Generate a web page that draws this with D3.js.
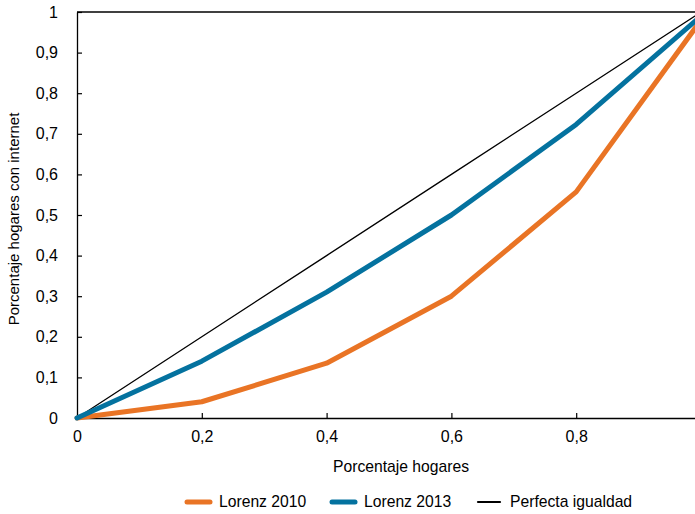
<!DOCTYPE html>
<html>
<head>
<meta charset="utf-8">
<script src="https://cdn.jsdelivr.net/npm/d3@7"></script>
<style>
  html, body { margin: 0; padding: 0; background: #fff; overflow: hidden; }
  svg { display: block; font-family: "Liberation Sans", Arial, sans-serif; }
</style>
</head>
<body>
<svg id="chart" width="695" height="514"></svg>
<script>
// Share of households (x) against cumulative share with internet (y)
const shares = [0, 0.2, 0.4, 0.6, 0.8, 1];
const lorenz2010 = [0, 0.04, 0.135, 0.30, 0.557, 0.98];
const lorenz2013 = [0, 0.14, 0.31, 0.50, 0.723, 0.99];
const equality = [0, 0.2, 0.4, 0.6, 0.8, 1];

const xTicks = [0, 0.2, 0.4, 0.6, 0.8, 1];
const yTicks = [0, 0.1, 0.2, 0.3, 0.4, 0.5, 0.6, 0.7, 0.8, 0.9, 1];

const seriesNames = ["Lorenz 2010", "Lorenz 2013", "Perfecta igualdad"];
const seriesColors = ["#E97425", "#04729F", "#000000"];
const seriesWidths = [5, 5, 1.3];

const svg = d3.select("#chart");
const margin = { left: 77, top: 12, right: 701, bottom: 418 };

const x = d3.scaleLinear().domain([0, 1]).range([margin.left, margin.right]);
const y = d3.scaleLinear().domain([0, 1]).range([margin.bottom, margin.top]);

const fmt = v => v === 0 ? "0" : v === 1 ? "1" : d3.format(".1f")(v).replace(".", ",");

// plot frame (top and right edges)
svg.append("line")
  .attr("x1", x(0)).attr("x2", x(1)).attr("y1", y(1)).attr("y2", y(1))
  .attr("stroke", "#000").attr("stroke-width", 1.3);
svg.append("line")
  .attr("x1", x(1)).attr("x2", x(1)).attr("y1", y(0)).attr("y2", y(1))
  .attr("stroke", "#000").attr("stroke-width", 1.3);

// axes with inward ticks
const xAxis = svg.append("g")
  .attr("transform", `translate(0,${y(0)})`)
  .call(d3.axisBottom(x).tickValues(xTicks).tickFormat(fmt).tickSize(-5).tickPadding(13).tickSizeOuter(0));
const yAxis = svg.append("g")
  .attr("transform", `translate(${x(0)},0)`)
  .call(d3.axisLeft(y).tickValues(yTicks).tickFormat(fmt).tickSize(-5).tickPadding(19).tickSizeOuter(0));

[xAxis, yAxis].forEach(g => {
  g.select(".domain").attr("stroke", "#000").attr("stroke-width", 1.3);
  g.selectAll(".tick line").attr("stroke", "#000").attr("stroke-width", 1.2);
  g.selectAll(".tick text")
    .attr("fill", "#000")
    .attr("font-size", 16)
    .attr("font-family", "Liberation Sans, Arial, sans-serif");
});
yAxis.selectAll(".tick").filter(d => d === 0).select("line").remove();
xAxis.selectAll(".tick").filter(d => d === 0).select("line").remove();

// series lines
const values = [lorenz2010, lorenz2013, equality];
const drawOrder = [2, 0, 1];
const line = d3.line().x(d => x(d[0])).y(d => y(d[1]));
drawOrder.forEach(i => {
  svg.append("path")
    .datum(shares.map((s, k) => [s, values[i][k]]))
    .attr("d", line)
    .attr("fill", "none")
    .attr("stroke", seriesColors[i])
    .attr("stroke-width", seriesWidths[i])
    .attr("stroke-linejoin", "round")
    .attr("stroke-linecap", "round");
});

// axis titles
svg.append("text")
  .attr("x", 401).attr("y", 472)
  .attr("text-anchor", "middle")
  .attr("font-size", 15.7)
  .text("Porcentaje hogares");
svg.append("text")
  .attr("transform", "translate(19,219) rotate(-90)")
  .attr("text-anchor", "middle")
  .attr("font-size", 15)
  .text("Porcentaje hogares con internet");

// legend
const legendX = [185, 330, 476];
const legend = svg.append("g");
seriesNames.forEach((name, i) => {
  legend.append("line")
    .attr("x1", legendX[i] + 2).attr("x2", legendX[i] + (i === 2 ? 24 : 25))
    .attr("y1", 502).attr("y2", 502)
    .attr("stroke", seriesColors[i])
    .attr("stroke-width", i === 2 ? 2.2 : 5)
    .attr("stroke-linecap", "round");
  legend.append("text")
    .attr("x", legendX[i] + 34).attr("y", 507)
    .attr("font-size", 15.7)
    .text(name);
});
</script>
</body>
</html>
